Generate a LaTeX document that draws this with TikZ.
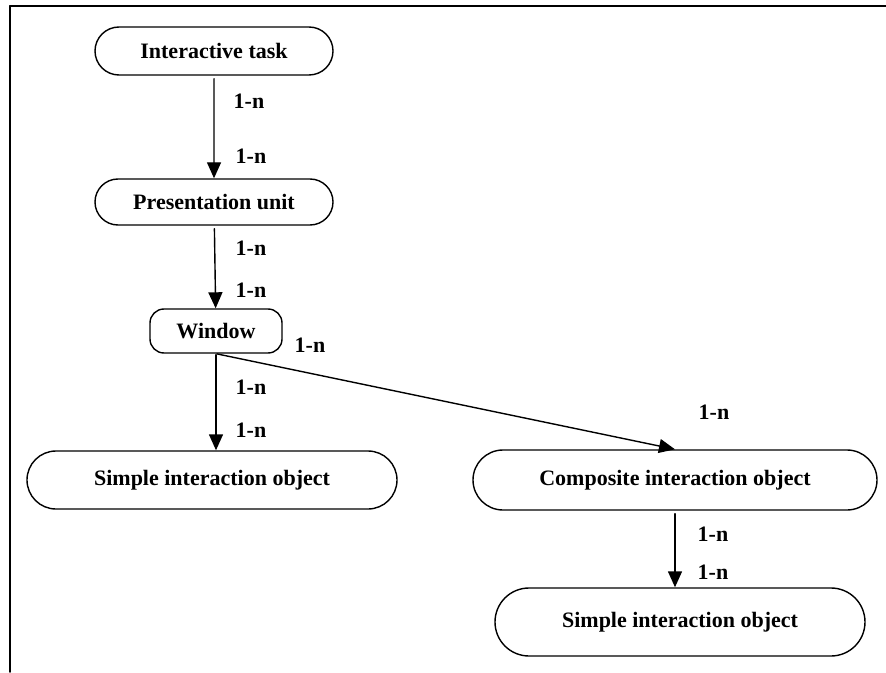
\documentclass[tikz,border=0pt]{standalone}
\usepackage{fontspec}
\setmainfont{Liberation Serif}
\usetikzlibrary{arrows.meta,shapes.misc}

\begin{document}
\begin{tikzpicture}[x=0.5bp,y=-0.5bp,>={Triangle[length=8bp,width=7bp]},
  line cap=round,
  every node/.style={font=\fontsize{11bp}{13bp}\selectfont\bfseries},
  entity/.style={draw,rounded rectangle,line width=.7bp,inner sep=0pt},
  card/.style={inner sep=0pt}]
 \useasboundingbox (0,0) rectangle (886,673);
 % frame
 \draw[line width=1bp] (10,6) -- (886,6);
 \draw[line width=.8bp] (10,6) -- (10,672);
 % entities
 \node[entity,minimum width=119bp,
  minimum height=24bp] (task) at (214,51) {Interactive task};
 \node[entity,minimum width=119bp,
  minimum height=23bp] (pres) at (214,202) {Presentation unit};
 \node[draw,rounded corners=7bp,line width=.7bp,minimum width=66bp,
  minimum height=22bp] (win) at (216,331) {Window};
 \node[entity,minimum width=185bp,
  minimum height=29bp] (simL) at (212,480) {Simple interaction object};
 \node[entity,minimum width=202bp,
  minimum height=30bp] (comp) at (675,480) {Composite interaction object};
 \node[entity,minimum width=185bp,
  minimum height=34bp] (simR) at (680,622) {Simple interaction object};
 % relations
 \draw[->,line width=.7bp,shorten <=1.5bp] (task) -- (pres);
 \draw[->,line width=.7bp,shorten <=1.5bp] (pres) -- (win);
 \draw[->,line width=.7bp,shorten <=.5bp] (win.south) -- (win.south |- simL.north);
 \draw[->,line width=.7bp,shorten <=.5bp] (win.south) -- (comp.north);
 \draw[->,line width=.7bp,shorten <=1.5bp] (comp.south) -- (comp.south |- simR.north);
 % cardinalities
 \node[card] (c1) at (249,101) {1-n};
 \node[card] (c2) at (251,156) {1-n};
 \node[card] (c3) at (251,248) {1-n};
 \node[card] (c4) at (251,290) {1-n};
 \node[card] (c5) at (251,387) {1-n};
 \node[card] (c6) at (251,430) {1-n};
 \node[card] (c7) at (310,345) {1-n};
 \node[card] (c8) at (714,412) {1-n};
 \node[card] (c9) at (713,534) {1-n};
 \node[card] (c10) at (713,572) {1-n};
\end{tikzpicture}
\end{document}
